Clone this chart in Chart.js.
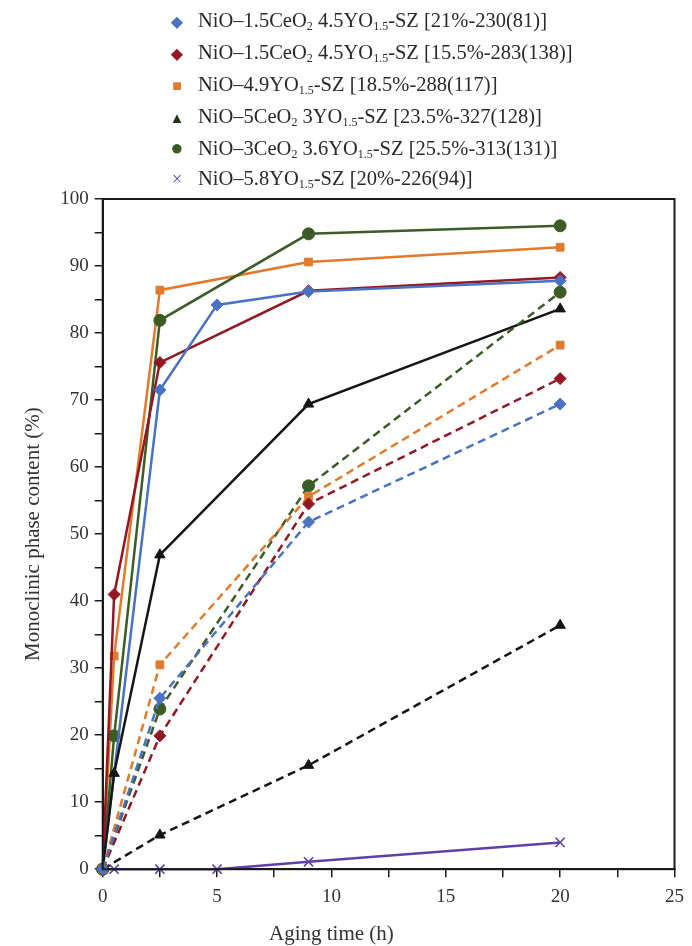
<!DOCTYPE html>
<html>
<head>
<meta charset="utf-8">
<script src="https://cdn.jsdelivr.net/npm/chart.js@4/dist/chart.umd.min.js"></script>
<style>
    html, body { margin: 0; padding: 0; background: #fff; }
    #wrap { position: relative; width: 692px; height: 946px; }
    #legend {
        position: absolute; left: 166px; top: 5px;
        font-family: "Liberation Serif", "DejaVu Serif", serif;
        font-size: 20.5px; color: #2a2a2a; line-height: 30px;
    }
    #legend div { white-space: nowrap; }
    #legend span.mk { display: inline-block; width: 22px; text-align: center; margin-right: 10px; }
    #legend sub { font-size: 12px; vertical-align: -3px; line-height: 0; }
</style>
</head>
<body>
<div id="wrap">
    <div id="legend"></div>
    <canvas id="agingChart" width="692" height="946"></canvas>
</div>
<script>
//
//
// Aging data (time in h, monoclinic content in %)
var hoursBlue = [0, 2.5, 5, 9, 20];
var hoursMain = [0, 0.5, 2.5, 9, 20];
var hoursPurple = [0, 0.5, 2.5, 5, 9, 20];
var hoursDashed = [0, 2.5, 9, 20];

var blueSolid = [0, 71.5, 84.2, 86.2, 87.8];
var redSolid = [0, 41, 75.6, 86.3, 88.3];
var orangeSolid = [0, 31.8, 86.4, 90.6, 92.8];
var blackSolid = [0, 14.3, 46.9, 69.4, 83.6];
var greenSolid = [0, 19.9, 81.9, 94.8, 96];
var purpleSolid = [0, 0, 0, 0, 1.1, 4];

var blueDashed = [0, 25.5, 51.8, 69.4];
var redDashed = [0, 19.9, 54.5, 73.2];
var orangeDashed = [0, 30.5, 55.6, 78.2];
var greenDashed = [0, 23.9, 57.2, 86.1];
var blackDashed = [0, 5.1, 15.5, 36.4];

var sampleNames = [
    'NiO–1.5CeO<sub>2</sub> 4.5YO<sub>1.5</sub>-SZ [21%-230(81)]',
    'NiO–1.5CeO<sub>2</sub> 4.5YO<sub>1.5</sub>-SZ [15.5%-283(138)]',
    'NiO–4.9YO<sub>1.5</sub>-SZ [18.5%-288(117)]',
    'NiO–5CeO<sub>2</sub> 3YO<sub>1.5</sub>-SZ [23.5%-327(128)]',
    'NiO–3CeO<sub>2</sub> 3.6YO<sub>1.5</sub>-SZ [25.5%-313(131)]',
    'NiO–5.8YO<sub>1.5</sub>-SZ [20%-226(94)]'
];
var xTicks = [0, 5, 10, 15, 20, 25];
var yTicks = [0, 10, 20, 30, 40, 50, 60, 70, 80, 90, 100];
var xTitle = 'Aging time (h)';
var yTitle = 'Monoclinic phase content (%)';

var colors = {
    blue: '#4a72c2',
    red: '#931823',
    orange: '#e07a2c',
    black: '#151515',
    green: '#3b5c25',
    purple: '#6040a8'
};

function pairs(xs, ys) {
    return xs.map(function(x, i) { return { x: x, y: ys[i] }; });
}

function series(label, xs, ys, color, style, size, dashed) {
    return {
        label: label,
        data: pairs(xs, ys),
        showLine: true,
        borderColor: color,
        backgroundColor: color,
        borderWidth: 2.5,
        borderDash: dashed ? [8, 5] : [],
        pointStyle: style,
        pointRadius: size,
        pointBorderWidth: style === 'crossRot' ? 1.6 : 1,
        pointBorderColor: color,
        clip: false
    };
}

var datasets = [
    series('blue dashed', hoursDashed, blueDashed, colors.blue, 'rectRot', 6, true),
    series('red dashed', hoursDashed, redDashed, colors.red, 'rectRot', 6, true),
    series('orange dashed', hoursDashed, orangeDashed, colors.orange, 'rect', 5.5, true),
    series('green dashed', hoursDashed, greenDashed, colors.green, 'circle', 6, true),
    series('black dashed', hoursDashed, blackDashed, colors.black, 'triangle', 6, true),
    series('purple', hoursPurple, purpleSolid, colors.purple, 'crossRot', 6.5, false),
    series('black', hoursMain, blackSolid, colors.black, 'triangle', 6, false),
    series('blue', hoursBlue, blueSolid, colors.blue, 'rectRot', 6, false),
    series('red', hoursMain, redSolid, colors.red, 'rectRot', 6, false),
    series('green', hoursMain, greenSolid, colors.green, 'circle', 6, false),
    series('orange', hoursMain, orangeSolid, colors.orange, 'rect', 5.5, false)
];

//
// Legend (html so the subscripts stay real text)
var legendMarks = [
    { ch: '◆', color: colors.blue, size: 16 },
    { ch: '◆', color: colors.red, size: 16 },
    { ch: '■', color: colors.orange, size: 16 },
    { ch: '▲', color: '#26331c', size: 15 },
    { ch: '●', color: colors.green, size: 22 },
    { ch: '×', color: colors.purple, size: 18 }
];
var legend = document.getElementById('legend');
sampleNames.forEach(function(name, i) {
    var row = document.createElement('div');
    var m = legendMarks[i];
    row.innerHTML = '<span class="mk" style="color:' + m.color + ';font-size:' + m.size + 'px">' +
        m.ch + '</span>' + name;
    legend.appendChild(row);
});

var serif = 'Liberation Serif';
var tickFont = { family: serif, size: 19 };

//
// Frame round the plot area + x axis title under the 10 h tick
var frame = {
    id: 'frame',
    afterDatasetsDraw: function(chart) {
        var a = chart.chartArea, c = chart.ctx;
        c.save();
        c.strokeStyle = '#1a1a1a';
        c.lineWidth = 2;
        c.strokeRect(a.left, a.top, a.right - a.left, a.bottom - a.top);
        c.restore();
    },
    afterDraw: function(chart) {
        var c = chart.ctx;
        c.save();
        c.font = '21px "' + serif + '"';
        c.fillStyle = '#333';
        c.textAlign = 'center';
        c.textBaseline = 'bottom';
        c.fillText(xTitle, chart.scales.x.getPixelForValue(10), chart.height - 1);
        c.restore();
    }
};

new Chart(document.getElementById('agingChart').getContext('2d'), {
    type: 'scatter',
    data: { datasets: datasets },
    plugins: [frame],
    options: {
        responsive: false,
        animation: false,
        layout: { padding: { top: 199, right: 10, left: 21, bottom: 30 } },
        plugins: {
            legend: { display: false },
            tooltip: { enabled: false }
        },
        scales: {
            x: {
                min: 0, max: 25,
                border: { color: '#1a1a1a', width: 2 },
                grid: { drawOnChartArea: false, tickLength: 8, color: '#1a1a1a', lineWidth: 1.5 },
                ticks: {
                    stepSize: 2.5, autoSkip: false, maxRotation: 0, padding: 8,
                    font: tickFont, color: '#333',
                    callback: function(v) { return xTicks.indexOf(v) >= 0 ? v : ''; }
                }
            },
            y: {
                min: 0, max: 100,
                border: { color: '#1a1a1a', width: 2 },
                grid: { drawOnChartArea: false, tickLength: 8, color: '#1a1a1a', lineWidth: 1.5 },
                ticks: {
                    stepSize: 5, autoSkip: false, padding: 6,
                    font: tickFont, color: '#333',
                    callback: function(v) { return yTicks.indexOf(v) >= 0 ? v : ''; }
                },
                title: {
                    display: true, text: yTitle,
                    font: { family: serif, size: 21 }, color: '#333', padding: { top: 0, bottom: 8 }
                }
            }
        }
    }
});
</script>
</body>
</html>
